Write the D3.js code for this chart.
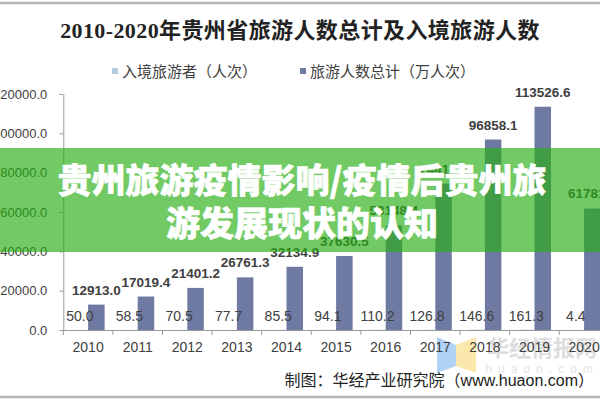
<!DOCTYPE html>
<html>
<head>
<meta charset="utf-8">
<script src="https://cdn.jsdelivr.net/npm/d3@7/dist/d3.min.js"></script>
<style>
  html, body { margin: 0; padding: 0; background: #fff; }
  svg { display: block; }
</style>
</head>
<body>
<svg id="chart" width="600" height="400"></svg>
<script>
const years = ["2010","2011","2012","2013","2014","2015","2016","2017","2018","2019","2020"];
const entryValues = [50.0, 58.5, 70.5, 77.7, 85.5, 94.1, 110.2, 126.8, 146.6, 161.3, 4.4];
const totalValues = [12913.0, 17019.4, 21401.2, 26761.3, 32134.9, 37630.5, 53148.4, 74417.4, 96858.1, 113526.6, 61781.3];
const seriesNames = ["入境旅游者（人次）", "旅游人数总计（万人次）"];
const yTicks = [0, 20000, 40000, 60000, 80000, 100000, 120000];
const titleText = "2010-2020年贵州省旅游人数总计及入境旅游人数";
const bannerLines = ["贵州旅游疫情影响/疫情后贵州旅", "游发展现状的认知"];
const sourceText = "制图：华经产业研究院（www.huaon.com）";

const colors = ["#b4cce0", "#6f7aa3"];
const textColor = "#404040";
const sansFont = "'Liberation Sans', Arial, 'Noto Sans CJK SC', sans-serif";

const svg = d3.select("#chart");
svg.append("rect").attr("width", 600).attr("height", 400).attr("fill", "#fff");

// frame lines
svg.append("line").attr("x1", 0).attr("x2", 600).attr("y1", 3).attr("y2", 3)
  .attr("stroke", "#b3b3b3").attr("stroke-width", 2.5);
svg.append("line").attr("x1", 0).attr("x2", 600).attr("y1", 397).attr("y2", 397)
  .attr("stroke", "#b3b3b3").attr("stroke-width", 2.5);

// title
svg.append("text").attr("x", 300).attr("y", 38).attr("text-anchor", "middle")
  .attr("font-family", "'Liberation Serif', 'Noto Sans CJK SC', serif")
  .attr("font-weight", "bold").attr("font-size", 22).attr("letter-spacing", 0.4).attr("fill", "#222")
  .text(titleText);

// legend
const legendX = [112, 300];
const legend = svg.append("g");
seriesNames.forEach((name, i) => {
  legend.append("rect").attr("x", legendX[i]).attr("y", 68).attr("width", 6).attr("height", 6)
    .attr("fill", colors[i]);
  legend.append("text").attr("x", legendX[i] + 10).attr("y", 77)
    .attr("font-family", "'Noto Sans CJK SC', sans-serif").attr("font-size", 15)
    .attr("fill", textColor).text(name);
});

// watermark logo (behind chart)
const wm = svg.append("g");
wm.append("path").attr("d", "M437,337 L456,345 L456,366 L437,373 Z").attr("fill", "#a9cdf3").attr("opacity", 0.9);
wm.append("path").attr("d", "M456,345 L476,337 L476,373 L456,366 Z").attr("fill", "#fbe6a3").attr("opacity", 0.9);
wm.append("text").attr("x", 542).attr("y", 356).attr("text-anchor", "middle")
  .attr("font-family", "'Noto Sans CJK SC', sans-serif").attr("font-weight", "bold")
  .attr("font-size", 22).attr("fill", "#cfcfcf").attr("opacity", 0.7).text("华经情报网");
wm.append("text").attr("x", 542).attr("y", 373).attr("text-anchor", "middle")
  .attr("font-family", sansFont).attr("font-size", 12).attr("letter-spacing", 6)
  .attr("fill", "#e2e2e2").text("huaon.com");

// scales
const left = 63.3, step = 49.6;
const x = d3.scaleBand().domain(years).range([left, left + step * years.length]).padding(0);
const bw = x.bandwidth();
const x1 = d3.scaleBand().domain([0, 1]).range([bw / 2 - 16.5, bw / 2 + 16.5]).padding(0);
const y = d3.scaleLinear().domain([0, 120000]).range([330, 94]);

// y axis
const yAxis = svg.append("g").attr("transform", `translate(${left},0)`)
  .call(d3.axisLeft(y).tickValues(yTicks).tickFormat(d3.format(".1f")).tickSize(4).tickSizeOuter(0).tickPadding(12));
yAxis.selectAll("path, line").attr("stroke", "#999");
yAxis.selectAll("text").attr("font-family", sansFont).attr("font-size", 13).attr("fill", textColor);

// bars
const data = years.map((yr, i) => ({ year: yr, vals: [entryValues[i], totalValues[i]] }));
const groups = svg.append("g").selectAll("g").data(data).join("g")
  .attr("transform", d => `translate(${x(d.year)},0)`);
groups.selectAll("rect").data(d => d.vals.map((v, k) => ({ v, k }))).join("rect")
  .attr("x", d => x1(d.k)).attr("width", x1.bandwidth())
  .attr("y", d => y(d.v)).attr("height", d => y(0) - y(d.v))
  .attr("fill", d => colors[d.k]);

// labels
groups.append("text")
  .attr("x", x1(1) + x1.bandwidth() / 2).attr("y", d => y(d.vals[1]) - 10)
  .attr("text-anchor", "middle").attr("font-family", sansFont).attr("font-weight", "bold")
  .attr("font-size", 13.5).attr("fill", textColor)
  .text(d => d3.format(".1f")(d.vals[1]));
groups.append("text")
  .attr("x", x1(0) + x1.bandwidth() / 2).attr("y", d => y(d.vals[0]) - 8.5)
  .attr("text-anchor", "middle").attr("font-family", sansFont)
  .attr("font-size", 14).attr("fill", textColor)
  .text(d => d3.format(".1f")(d.vals[0]));

// x axis
const xAxis = svg.append("g").attr("transform", "translate(0,330)")
  .call(d3.axisBottom(x).tickSize(0).tickPadding(12).tickSizeOuter(0));
xAxis.select("path").attr("stroke", "#999").attr("d", `M${left},0.5H${left + step * years.length}`);
xAxis.selectAll("text").attr("font-family", sansFont).attr("font-size", 14).attr("fill", textColor);
xAxis.selectAll(".bound").data(d3.range(years.length + 1)).join("line").attr("class", "bound")
  .attr("x1", i => left + i * step).attr("x2", i => left + i * step)
  .attr("y1", 0).attr("y2", 5).attr("stroke", "#999");

// source
svg.append("text").attr("x", 594).attr("y", 386).attr("text-anchor", "end")
  .attr("font-family", "'Liberation Sans', 'Noto Sans CJK SC', sans-serif").attr("font-size", 16)
  .attr("fill", "#222").text(sourceText);

// green banner overlay
svg.append("rect").attr("x", 0).attr("y", 148).attr("width", 600).attr("height", 104)
  .attr("fill", "rgb(40,175,20)").attr("opacity", 0.66);
const bannerY = [193, 236];
bannerLines.forEach((t, i) => {
  svg.append("text").attr("x", 302).attr("y", bannerY[i]).attr("text-anchor", "middle")
    .attr("font-family", "'Noto Sans CJK SC', sans-serif").attr("font-weight", 900)
    .attr("font-size", 34).attr("fill", "#fff")
    .attr("stroke", "#fff").attr("stroke-width", 0.6)
    .text(t);
});
</script>
</body>
</html>
